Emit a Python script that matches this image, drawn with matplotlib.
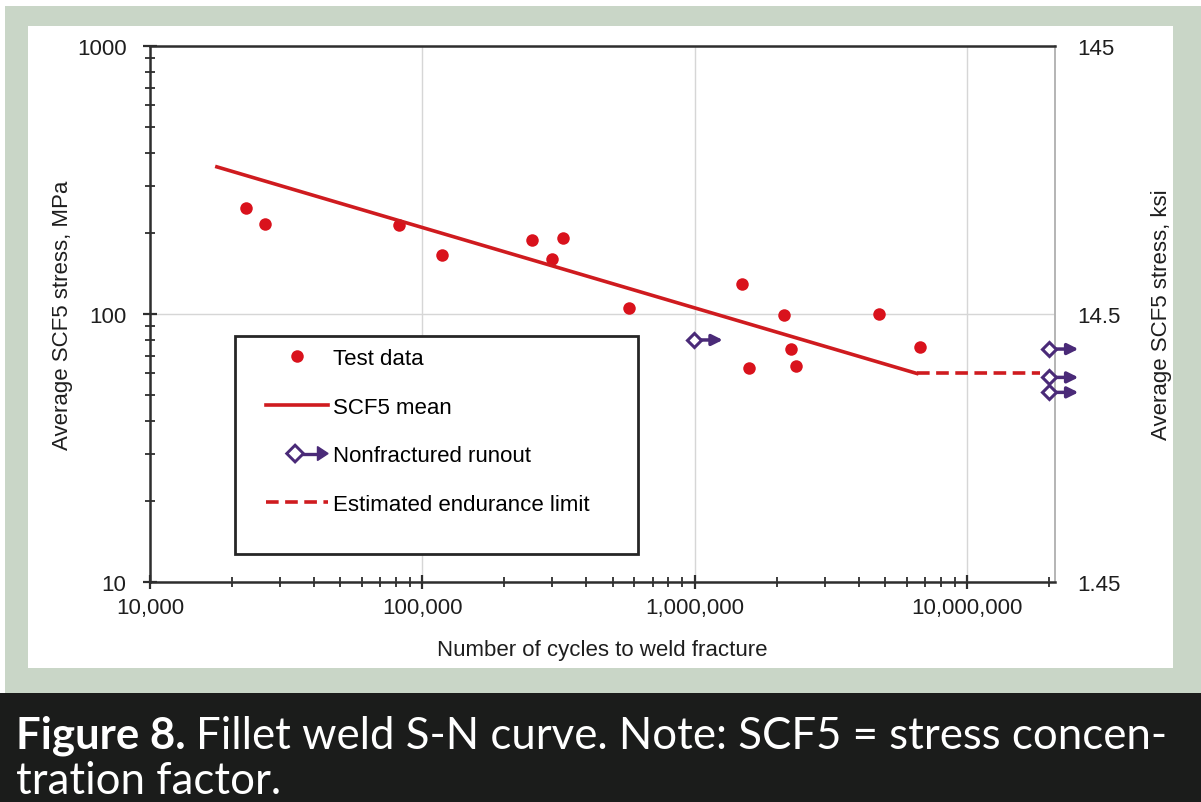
import numpy as np
import matplotlib
matplotlib.use('Agg')
from matplotlib import pyplot as plt
from matplotlib.patches import Rectangle, Polygon
from matplotlib.lines import Line2D
from matplotlib.legend_handler import HandlerBase
from matplotlib.ticker import FixedLocator, FuncFormatter, LogLocator, NullFormatter
from matplotlib.transforms import offset_copy

# test data (cycles to fracture, average SCF5 stress in MPa)
test_cycles = [22500, 26400, 82000, 118000, 253000, 300000, 327000, 571000,
               1486000, 1585000, 2130000, 2260000, 2360000, 4730000, 6730000]
test_stress = [249, 217, 215, 166, 189, 160, 192, 105,
               129, 63, 99, 74, 64, 100, 75]

# runouts that did not fracture
runout_cycles = [990000, 20000000, 20000000, 20000000]
runout_stress = [80, 74, 58, 51]

# SCF5 mean curve and estimated endurance limit
mean_cycles = [17600, 6530000]
mean_stress = [354, 60]
limit_cycles = [6530000, 18500000]
limit_stress = [60, 60]

ksi_ticks = [1.45, 14.5, 145]
ksi_labels = ['1.45', '14.5', '145']

red = '#d9121c'
line_red = '#cf1b1f'
purple = '#4a2a78'
dark = '#2e2e2e'
axis_font = 'Liberation Sans'

plt.rcParams['font.family'] = axis_font

fig = plt.figure(figsize=(12.01, 8.03), dpi=100)
fig.set_facecolor('white')

#page background: green border, white panel and dark caption band
W, H = 1201.0, 803.0
def px_rect(x0, y0, x1, y1, color):
	fig.patches.append(Rectangle((x0 / W, 1 - y1 / H), (x1 - x0) / W, (y1 - y0) / H,
		transform=fig.transFigure, facecolor=color, edgecolor='none', zorder=-10))
px_rect(5, 7, W, 695, '#c9d6c7')
px_rect(28, 27, 1173, 669, 'white')
px_rect(0, 694, W, H, '#1b1c1b')

ax = fig.add_axes([150 / W, 1 - 583 / H, 905 / W, 536 / H])
ax.set_xscale('log')
ax.set_yscale('log')
ax.set_xlim(1e4, 2.1e7)
ax.set_ylim(10, 1000)
ax.set_facecolor('none')

ax.grid(True, which='major', color='#d6d6d6', lw=1.0)
ax.set_axisbelow(True)

ax.plot(test_cycles, test_stress, 'o', color=red, ms=9, mec='none', zorder=3)
ax.plot(mean_cycles, mean_stress, '-', color=line_red, lw=2.6, zorder=4)
ax.plot(limit_cycles, limit_stress, '--', color=line_red, lw=2.6, dashes=(3.5, 1.8), zorder=4)

#runouts: open diamond with an arrow pointing to the right
ax.plot(runout_cycles, runout_stress, 'D', ms=7.5, mfc='white', mec=purple, mew=2.2,
	ls='none', zorder=6, clip_on=False)
tail = offset_copy(ax.transData, fig=fig, x=5, y=0, units='points')
head = offset_copy(ax.transData, fig=fig, x=21, y=0, units='points')
for cx, cy in zip(runout_cycles, runout_stress):
	ax.annotate('', xy=(cx, cy), xycoords=head, xytext=(cx, cy), textcoords=tail,
		arrowprops=dict(arrowstyle='-|>', color=purple, lw=2.5, mutation_scale=16,
		shrinkA=0, shrinkB=0), annotation_clip=False, zorder=5)

#axes styling
for side in ['left', 'bottom', 'top']:
	ax.spines[side].set_color(dark)
	ax.spines[side].set_linewidth(1.8)
ax.spines['right'].set_color('#b4b4b4')
ax.spines['right'].set_linewidth(1.4)

ax.xaxis.set_major_locator(LogLocator(base=10, numticks=10))
ax.xaxis.set_minor_locator(LogLocator(base=10, subs=np.arange(2, 10), numticks=20))
ax.yaxis.set_major_locator(LogLocator(base=10, numticks=10))
ax.yaxis.set_minor_locator(LogLocator(base=10, subs=np.arange(2, 10), numticks=20))
ax.xaxis.set_major_formatter(FuncFormatter(lambda v, p: f'{v:,.0f}'))
ax.yaxis.set_major_formatter(FuncFormatter(lambda v, p: f'{v:g}'))
ax.xaxis.set_minor_formatter(NullFormatter())
ax.yaxis.set_minor_formatter(NullFormatter())
ax.tick_params(which='major', direction='inout', length=10, width=1.6, color=dark,
	labelsize=16, labelcolor='#1e1e1e', top=False, right=False)
ax.tick_params(which='minor', direction='inout', length=7, width=1.3, color=dark,
	top=False, right=False)
ax.tick_params(axis='x', which='major', pad=6)
ax.tick_params(axis='y', which='major', pad=12)

ax.set_xlabel('Number of cycles to weld fracture', fontsize=16, color='#1e1e1e', labelpad=15)
ax.set_ylabel('Average SCF5 stress, MPa', fontsize=16, color='#1e1e1e', labelpad=3)

#second y axis in ksi
ax2 = ax.twinx()
ax2.set_yscale('log')
ax2.set_ylim(1.45, 145)
ax2.yaxis.set_major_locator(FixedLocator(ksi_ticks))
ax2.yaxis.set_minor_locator(FixedLocator([]))
ax2.set_yticklabels(ksi_labels)
ax2.tick_params(axis='y', length=0, pad=16, labelsize=16, labelcolor='#1e1e1e')
for side in ax2.spines:
	ax2.spines[side].set_visible(False)
ax2.set_ylabel('Average SCF5 stress, ksi', fontsize=16, color='#1e1e1e', labelpad=22)

#legend with its own frame
class RunoutHandler(HandlerBase):
	def create_artists(self, legend, orig_handle, xdescent, ydescent, width, height, fontsize, trans):
		cy = height / 2 - ydescent
		cx = width * 0.47 - xdescent
		d = 6.0
		arrow = Line2D([cx + d, width * 0.88 - xdescent], [cy, cy], color=purple, lw=2.4, transform=trans)
		tip = Polygon([[width * 0.83 - xdescent, cy - 5], [width * 1.0 - xdescent, cy],
			[width * 0.83 - xdescent, cy + 5]], closed=True, color=purple, transform=trans)
		dia = Polygon([[cx - d, cy], [cx, cy + d], [cx + d, cy], [cx, cy - d]], closed=True,
			facecolor='white', edgecolor=purple, lw=2.1, transform=trans)
		return [arrow, tip, dia]

h_test = Line2D([], [], marker='o', color=red, ms=9, mec='none', ls='none')
h_mean = Line2D([], [], color=line_red, lw=2.6)
h_runout = object()
h_limit = Line2D([], [], color=line_red, lw=2.6, ls='--', dashes=(3.5, 1.8))
frame = Rectangle((0.094, 0.052), 0.445, 0.407, transform=ax.transAxes, facecolor='white',
	edgecolor='#262626', lw=2, zorder=7)
ax.add_patch(frame)
leg = ax.legend([h_test, h_mean, h_runout, h_limit],
	['Test data', 'SCF5 mean', 'Nonfractured runout', 'Estimated endurance limit'],
	handler_map={h_runout: RunoutHandler()}, loc='upper left',
	bbox_to_anchor=(0.128, 0.437), frameon=False, borderpad=0, borderaxespad=0,
	fontsize=16, handlelength=2.8, handletextpad=0.2, labelspacing=1.25)
leg.set_zorder(8)

#caption
cap_size = 31.5
cap = fig.text(16 / W, 1 - 749 / H, 'Figure 8.', fontsize=cap_size, fontweight='bold',
	color='white', family='Lato', va='baseline')
fig.text(16 / W, 1 - 794 / H, 'tration factor.', fontsize=cap_size, color='white', family='Lato', va='baseline')
fig.canvas.draw()
bb = cap.get_window_extent()
fig.text((bb.x1 + 10) / W, 1 - 749 / H, 'Fillet weld S-N curve. Note: SCF5 = stress concen-',
	fontsize=cap_size, color='white', family='Lato', va='baseline')

plt.savefig('out.png', dpi=100, facecolor=fig.get_facecolor())
